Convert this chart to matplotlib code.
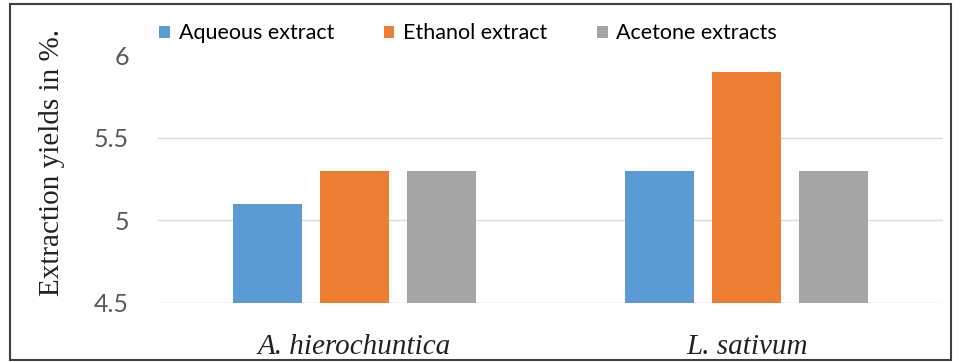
import matplotlib.pyplot as plt
from matplotlib.patches import Patch, Rectangle
import numpy as np

# Extraction yields (%) per plant and solvent
plants = ['A. hierochuntica', 'L. sativum']
aqueous = [5.1, 5.3]
ethanol = [5.3, 5.9]
acetone = [5.3, 5.3]
series_names = ['Aqueous extract', 'Ethanol extract', 'Acetone extracts']
colors = ['#5B9BD5', '#ED7D31', '#A5A5A5']

fig = plt.figure(figsize=(9.6, 3.62), dpi=100)
ax = fig.add_axes([0.1646, 0.163, 0.8177, 0.685])

x = np.arange(len(plants))
width = 0.176
step = 0.222
for i, (vals, c) in enumerate(zip([aqueous, ethanol, acetone], colors)):
    ax.bar(x + (i - 1) * step, np.array(vals) - 4.5, width, bottom=4.5,
           color=c, zorder=3)

ax.set_xlim(-0.5, 1.5)
ax.set_ylim(4.5, 6)
ax.set_yticks([4.5, 5, 5.5, 6])
ax.set_yticklabels(['4.5', '5', '5.5', '6'])
ax.set_xticks(x)
ax.set_xticklabels(plants, fontfamily='Liberation Serif', style='italic',
                   fontsize=21, color='#222222')
for lab in ax.get_yticklabels():
    lab.set_fontfamily('Lato')
    lab.set_fontsize(18)
    lab.set_color('#595959')
ax.tick_params(length=0)
ax.tick_params(axis='y', pad=21)
ax.tick_params(axis='x', pad=22)

# grid lines at 4.5, 5, 5.5 only
for yv in [4.5, 5, 5.5]:
    ax.axhline(yv, color='#D9D9D9', linewidth=1, zorder=1)
for s in ax.spines.values():
    s.set_visible(False)

fig.text(0.054, 0.55, 'Extraction yields in %.', rotation=90, ha='center',
         va='center', fontfamily='Liberation Serif', fontsize=21,
         color='#222222')

handles = [Patch(facecolor=c, edgecolor='none') for c in colors]
fig.legend(handles, series_names, loc='center left',
           bbox_to_anchor=(0.166, 0.908), ncol=3, frameon=False,
           handlelength=0.5, handleheight=0.5, handletextpad=0.4,
           columnspacing=2.3, borderpad=0, borderaxespad=0,
           prop={'family': 'Lato', 'size': 15.5})

# outer border
fig.patches.append(Rectangle((0.010, 0.006), 0.981, 0.983, fill=False,
                             edgecolor='#404040', linewidth=1.5,
                             transform=fig.transFigure, figure=fig))

plt.savefig('out.png', dpi=100)
